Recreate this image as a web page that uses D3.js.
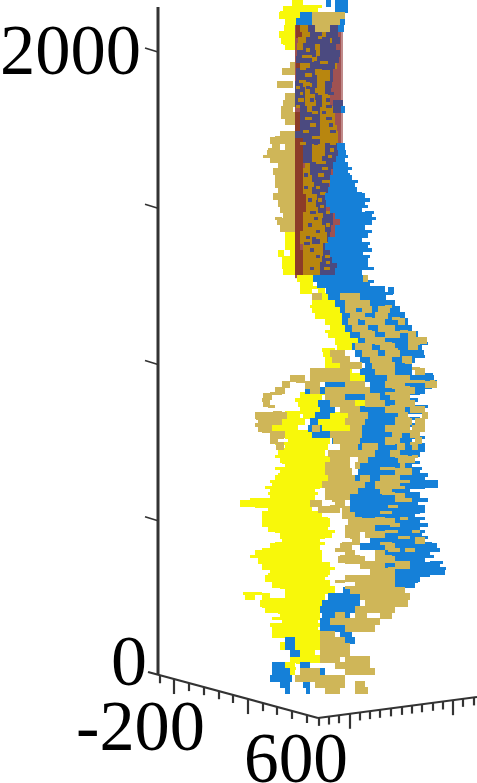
<!DOCTYPE html>
<html><head><meta charset="utf-8">
<script src="https://cdnjs.cloudflare.com/ajax/libs/d3/7.8.5/d3.min.js"></script>
<style>html,body{margin:0;padding:0;background:#fff;overflow:hidden}text{font-family:"Liberation Serif",serif;fill:#000}</style>
</head><body><svg id="c" width="477" height="783"></svg>
<script>
// rows: [depth, start, end, start, end, ...] horizontal = projected position
const yellowRows=[[2150,292,303],[2130,283,318],[2110,279,310],[2090,285,296],[2070,284,295],[2050,279,295],[2030,281,295],[2010,285,295],
[1410,285,295],[1390,285,295],[1370,285,295],[1350,278,284,290,295],[1330,282,295],[1310,282,295],[1290,283,295],
[1270,297,313],[1250,300,313],[1230,300,312,318,325],[1210,315,328],[1190,312,338],[1170,312,340],[1150,315,342],[1130,325,342],[1110,330,345],[1090,328,350],[1070,335,358],[1050,337,355],[1030,323,343],[1010,325,345],[990,325,355],[970,335,352],[950,350,365],
[890,300,322],[870,298,318,355,365],[850,300,320],[830,287,300,303,318,330,350],[810,280,305,315,345],[790,265,298,318,358],[770,280,320],[750,288,330],[730,285,328],[710,278,325],[690,280,330],[670,285,330],[650,280,325],[630,275,328],[610,272,322],[590,270,315],[570,270,315],[550,240,312],[530,268,312],[510,262,322],[490,262,330],[470,268,328],[450,280,332],[430,282,320],[410,270,320],[390,255,322],[370,258,322],[350,262,330],[330,270,330],[310,265,325],[290,272,330],[270,285,335],[250,245,255,262,270,285,325],[230,260,325],[210,265,320],[190,280,320],[170,282,318],[150,272,318],[130,272,320],[110,285,325],[90,280,340],[70,290,315],[50,290,320],[30,285,295],[10,288,295]];
const fineYellow=[[2140,300,322],[2120,280,310],[2100,287,300],[2060,290,295],[2020,283,292],[1240,305,325],[1200,318,330],[1180,310,335],[1100,325,345],[1060,335,360],[1040,322,335],[1000,328,350],[960,345,368],[900,300,325],[880,295,318],[840,285,310],[820,290,300,340,360],[800,270,295,330,360],[780,285,320],[760,285,325],[740,275,300],[720,280,325],[700,275,325],[680,282,328],[660,275,330],[640,278,325],[620,270,322],[600,265,320],[580,268,318],[560,250,300],[540,255,270],[520,262,320],[500,265,328],[480,262,330],[460,275,335],[440,280,325],[420,275,325],[400,262,320],[380,250,280],[360,258,290],[340,262,335],[320,268,328],[300,272,330],[280,280,335],[260,243,262],[240,262,325],[220,262,320],[200,278,320],[180,272,320],[160,270,320],[140,275,320],[120,285,325],[100,280,345],[80,292,315],[60,292,322],[40,296,300],[20,290,296]];
const blueRows=[[2150,326,331,335,348],[2130,335,348],[2110,300,318],[2090,296,315,335,345],[2070,338,344],[1810,341,345],
[1690,337,345],[1670,338,346],[1650,336,345],[1630,333,348],[1610,333,348],[1590,330,352],[1570,330,355],[1550,328,357],[1530,325,365],[1510,326,365],[1490,330,362],[1470,335,372],[1450,340,372],[1430,335,365],[1410,335,368],[1390,328,362],[1370,325,368],[1350,330,363],[1330,332,368],[1310,337,368],[1290,335,362],
[1270,313,363],[1250,317,370],[1230,326,385,388,394],[1210,328,386],[1190,335,395],[1170,340,400],[1150,342,405],[1130,342,408],[1110,345,412],[1090,350,418],[1070,358,425],[1050,352,422],[1030,355,424],[1010,360,415],[990,365,412],[970,360,412],[950,365,434],[930,325,345,370,430],[910,305,325,370,425],[890,340,365,380,410],[870,318,330,385,410],[850,320,335,360,420],[830,315,330,368,405],[810,310,318,365,412],[790,308,322,362,400],[770,312,330,362,415],[750,332,345,360,412],[730,345,425],[710,375,420],[690,368,415],[670,360,412],[650,358,420],[630,355,425],[610,365,438],[590,358,410],[570,345,420],[550,350,418],[530,345,425],[510,352,415],[490,355,420],[470,375,420],[450,375,422],[430,370,420],[410,360,437],[390,375,430],[370,375,425],[350,385,440],[330,395,445],[310,395,420],[290,395,415],[270,343,363,395,398],[250,328,365],[230,322,360],[210,320,360],[190,322,350],[170,320,345],[150,320,345],[130,340,352],[110,285,295,345,355],[90,285,295],[70,290,300],[30,272,285,300,310],[10,272,290,305,325],[-10,270,292],[-30,280,290,303,310],[-50,285,290,306,310]];
const fineBlue=[[1660,340,348],[1620,345,352],[1600,345,350],[1580,350,358],[1540,355,362],[1520,362,370],[1500,358,368],[1480,365,374],[1460,368,376],[1420,360,372],[1380,358,370],[1360,360,372],[1340,360,370],[1300,360,374],[1260,365,374],[1240,370,385],[1220,380,393],[1060,420,428],[1020,415,425],[980,410,418],[960,420,433],[940,425,437],[920,418,432],[900,405,420],[880,405,418],[860,410,428],[840,405,425],[820,410,420],[800,405,420],[780,395,405],[760,410,425],[740,408,422],[720,412,425],[700,405,418],[680,408,420],[660,405,422],[640,410,428],[620,420,438],[600,400,425],[580,405,420],[560,410,428],[540,415,425],[520,410,420],[500,410,425],[480,415,428],[460,415,425],[440,415,428],[420,415,432],[400,430,440],[380,420,434],[360,430,443],[340,435,446],[320,415,430],[300,405,418],[280,385,395]];
const tanRows=[[2110,312,345],[2090,312,340],[2070,315,330],[1950,290,295],[1930,282,295],[1890,277,293],[1850,285,295],[1830,283,295],[1810,281,293],[1790,281,295],[1770,285,295],[1730,280,295],[1710,270,295],[1690,272,280,285,295],[1670,267,295],[1650,270,295],[1630,278,295],[1610,273,295],[1590,275,295],[1570,275,295],[1550,278,295],[1530,273,295],[1510,278,295],[1490,280,295],[1470,283,295],[1450,277,295],[1430,280,295],
[1270,363,368],[1210,312,322,340,360],[1190,345,370],[1170,345,356,362,372,378,390],[1150,350,365,375,388],[1130,348,358,365,385,398,405],[1110,352,368,378,395],[1090,360,375,385,400,408,416],[1070,365,385,408,427],[1050,355,372,380,395,408,418],[1030,330,345,362,378,385,400],[1010,332,350,370,392,402,412],[990,340,362,372,395],[970,310,350,375,395,415,425],[950,290,305,310,350,387,410],[930,282,290,305,320,345,365,385,405,425,437],[910,275,285,310,320,325,370,395,415],[890,263,272,325,345,365,380,390,410],[870,263,270,330,355,365,385,395,415],[850,340,360,385,405,410,425],[830,255,287,348,368,398,408,422,428],[810,258,282,345,365,395,412,415,425],[790,258,272,312,320,350,362,385,410,412,425],[770,270,285,330,362,392,402,410,420],[750,270,278,333,360,385,400,415,422],[730,276,284,340,358,362,378,397,405,412,418],[710,328,375,390,400],[690,330,350,358,368,398,415],[670,325,350,355,360,400,405],[650,325,352,395,412],[630,328,355,360,370,380,400],[610,322,365,375,400],[590,325,358,380,392],[570,325,350,395,405],[550,310,322,335,345],[530,318,340,342,350],[510,342,355],[490,348,360,360,395],[470,345,375],[450,345,360,365,385],[430,352,360,415,425],[410,340,352,385,395],[390,345,355,375,385],[370,338,365,375,395],[350,360,385,395,410],[330,370,395],[310,345,395],[290,355,395],[270,350,405],[250,360,410],[230,365,408],[210,355,395],[190,335,345,355,367,380,392],[170,330,345,345,380],[150,345,375],[130,320,335],[110,320,345],[90,320,350],[70,320,350],[50,320,340,345,370],[30,335,370],[10,300,320,345,375],[-10,295,345],[-30,315,345,355,365],[-50,325,340,355,368]];
const fineTan=[[1720,275,285],[1680,268,278],[1660,263,270],[1460,275,282],[1180,350,365,385,392],[1140,360,372,392,400],[1100,362,372,400,408],[1060,375,392,412,420],[1040,388,398],[1000,378,392,405,412],[980,380,395,412,420],[940,296,305,395,425,430,435],[920,305,318,392,410],[900,270,282,385,398],[880,262,270],[860,268,275,390,405],[840,273,282],[820,256,272,395,410],[800,255,268],[780,262,270,400,420],[760,276,284],[740,277,284,385,395,410,418],[700,395,408,412,418],[660,380,395],[620,385,410],[600,375,405],[580,382,395],[560,332,345,395,412],[540,330,345,388,398],[520,380,392],[500,350,362,375,385,400,408],[480,390,400],[460,385,398,412,420],[440,350,358,398,410],[420,342,360,380,392],[400,335,350,388,400,405,415],[380,340,360,378,392],[360,345,375,395,410],[340,388,395],[320,378,392],[300,335,345],[280,345,375]];
const brownRows=[[2070,296,300],[2050,296,302],[1950,296,300],[1790,295,300],[1770,295,300],[1750,295,300],[1710,295,303],[1690,295,303],[1670,295,303],[1650,295,303],[1630,295,303],[1610,295,303],[1590,295,303],[1570,295,303],[1550,295,303],[1530,295,306],[1510,295,306],[1490,295,306],[1470,295,303],[1450,295,303],[1430,295,303],[1410,295,300],[1390,295,300],[1370,295,300],[1350,295,303],[1330,295,303],[1310,295,303],[1290,295,303]];
const goldRows=[[2070,300,308,320,326],[2050,302,310,322,326],[2030,298,306,330,332],[2010,297,303,315,320],[1990,316,320],[1970,312,317],[1950,300,310,335,337],[1930,315,332],[1910,317,330],[1890,303,325],[1870,305,325],[1850,305,330],[1830,305,330],[1810,307,333],[1790,320,335],[1770,320,335],[1750,320,337],[1730,320,338],[1710,320,338],[1690,312,325],[1670,312,325],[1650,312,322],[1630,305,310],[1610,303,310],[1590,303,312],[1570,303,314],[1550,303,312],[1530,306,317],[1510,306,316],[1490,306,318],[1470,303,323],[1450,303,322],[1430,303,325],[1410,300,327],[1390,300,312,320,327],[1370,303,323],[1350,303,323],[1330,303,322],[1310,303,320],[1290,303,320]];
const darkRows=[[2070,308,320,326,340],[2050,310,322,326,338],[2030,306,330,332,340],[2010,303,315,320,336],[1990,297,316,320,340],[1970,296,312,317,339],[1950,310,335],[1930,296,315,330,333],[1910,296,317,330,333],[1890,295,303,312,317,325,332],[1870,295,305,310,315,325,331],[1850,295,305,315,322],[1830,295,305,316,322,333,343],[1810,300,307,312,320,333,343],[1790,300,320],[1770,300,320],[1750,300,320],[1730,295,320],[1710,303,320],[1690,303,312,325,340],[1670,303,312,325,339],[1650,303,312,322,336],[1630,310,333],[1610,310,331],[1590,312,330],[1570,314,329],[1550,312,330],[1530,317,327],[1510,316,327],[1490,318,326],[1470,323,333],[1450,322,333],[1430,325,331],[1410,327,330],[1390,312,320,327,330],[1370,323,333],[1350,323,332],[1330,322,333],[1310,320,337],[1290,320,336]];
const fineGold=[[2040,318,322],[2000,306,310],[1980,302,312],[1960,320,328],[1940,300,306],[1920,305,312,318,322],[1900,299,306],[1880,296,300,320,324],[1860,300,303,318,322],[1840,298,304],[1820,296,300,322,326],[1800,312,318],[1780,305,312],[1760,310,316],[1740,303,309],[1720,312,320],[1700,300,306,330,336],[1680,316,322,330,334],[1660,328,332],[1640,316,326],[1620,322,328],[1600,318,324],[1580,322,330],[1560,316,320],[1540,320,326],[1520,318,322],[1500,320,324],[1480,326,330],[1440,326,330],[1400,316,322],[1380,325,335],[1340,325,330],[1320,326,330],[1300,324,330],[1280,305,318]];
const fineDark=[[1960,314,320],[1940,322,330],[1900,310,314],[1880,306,310],[1860,328,334],[1840,310,314,326,330],[1820,326,332],[1800,322,326],[1780,326,332],[1760,329,333],[1740,330,336],[1700,314,318],[1680,306,308],[1600,304,308],[1560,304,308],[1520,308,312],[1480,310,316],[1460,314,318],[1440,308,312],[1420,316,320],[1400,306,310],[1380,304,310],[1360,310,314],[1340,316,320],[1300,310,314]];
const depthTicks=[0,500,1000,1500,2000];
const leftTicks=[160,174,189,204,219,233,248,263,277,292,307];
const leftLong=[174,248];
const rightTicks=[319,329,339,350,360,370,380,391,402,412,422,433,443,453,463,474];
const rightLong=[350,453];
const floorLeft=[[148,672],[318,718]];
const floorRight=[[318,718],[477,697]];
const cylinder={top:2085,bottom:1270,left:295,right:343,edge:341};

const svg=d3.select("#c");
const W=477,H=783;
const y=d3.scaleLinear().domain([0,2000]).range([675,50]);
const x=d3.scaleLinear().domain([0,W]).range([0,W]);
const bandH=y(0)-y(20);
const flat=rows=>rows.flatMap(r=>{const o=[];for(let i=1;i<r.length;i+=2)o.push({d:r[0],a:r[i],b:r[i+1]});return o;});
const layer=(rows,col,h=bandH+.6)=>svg.append("g").attr("shape-rendering","crispEdges").attr("fill",col).selectAll("rect").data(flat(rows)).join("rect")
  .attr("x",s=>x(s.a)).attr("width",s=>x(s.b)-x(s.a)).attr("y",s=>y(s.d)-h/2).attr("height",h);
const fineH=bandH/2;

svg.append("rect").attr("x",x(cylinder.left)).attr("width",x(cylinder.right)-x(cylinder.left)).attr("y",y(cylinder.top)).attr("height",y(cylinder.bottom)-y(cylinder.top)).attr("fill","#a05252");
svg.append("rect").attr("x",x(cylinder.edge)).attr("width",x(cylinder.right)-x(cylinder.edge)).attr("y",y(cylinder.top)).attr("height",y(1700)-y(cylinder.top)).attr("fill","#c08a8a");
layer(brownRows,"#8c3c28");layer(goldRows,"#b8860f");layer(darkRows,"#4b4a80");
layer(fineGold,"#b8860f",fineH);layer(fineDark,"#4b4a80",fineH);
layer(yellowRows,"#f8f80a");layer(fineYellow,"#f8f80a",fineH);
layer(blueRows,"#1580d8");layer(fineBlue,"#1580d8",fineH);
layer(tanRows,"#cfb658");layer(fineTan,"#cfb658",fineH);

const ax=svg.append("g").attr("stroke","#333").attr("fill","none");
ax.append("line").attr("x1",158).attr("x2",158).attr("y1",7).attr("y2",y(0)).attr("stroke-width",3);
[floorLeft,floorRight].forEach(s=>ax.append("path").attr("d",d3.line()(s)).attr("stroke-width",2.2));
ax.selectAll(".dt").data(depthTicks.slice(1)).join("line").attr("x1",145).attr("x2",158).attr("y1",d=>y(d)-2).attr("y2",d=>y(d)+2).attr("stroke-width",1.8);
const floorY=(seg,px)=>d3.scaleLinear().domain([seg[0][0],seg[1][0]]).range([seg[0][1],seg[1][1]])(px);
const ticks=(arr,long,seg)=>ax.append("g").selectAll("line").data(arr).join("line").attr("x1",d=>d).attr("x2",d=>d)
  .attr("y1",d=>floorY(seg,d)).attr("y2",d=>floorY(seg,d)+(long.includes(d)?15:8)).attr("stroke-width",2.2);
ticks(leftTicks,leftLong,floorLeft);ticks(rightTicks,rightLong,floorRight);

const fs=72;
const label=(t,px,py,len)=>svg.append("text").attr("x",px).attr("y",py).attr("font-size",fs).attr("textLength",len).attr("lengthAdjust","spacingAndGlyphs").text(t);
label("2000",0,74,141);
label("0",111,685,36);
label("-200",76,750,129);
label("600",244,782,104);
</script></body></html>
